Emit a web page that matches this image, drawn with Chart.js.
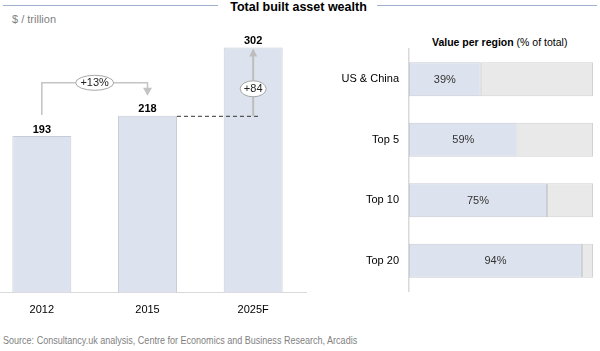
<!DOCTYPE html>
<html>
<head>
<meta charset="utf-8">
<script src="https://cdn.jsdelivr.net/npm/chart.js@4.4.1/dist/chart.umd.min.js"></script>
<style>
  html,body{margin:0;padding:0;background:#fff;overflow:hidden;}
  body{width:600px;height:351px;position:relative;font-family:"Liberation Sans",Arial,sans-serif;}
  #left{position:absolute;left:-11px;top:0;}
  #right{position:absolute;left:300px;top:0;}
  .t{position:absolute;white-space:nowrap;}
  #titleL{position:absolute;left:3px;top:5px;width:215px;height:0;border-top:1.5px solid #9fb1cf;}
  #titleR{position:absolute;left:377px;top:5px;width:220px;height:0;border-top:1.5px solid #9fb1cf;}
</style>
</head>
<body>
<div id="titleL"></div><div id="titleR"></div>
<div class="t" style="left:0;width:597px;text-align:center;top:0px;font-weight:bold;font-size:12.5px;color:#000;">Total built asset wealth</div>
<div class="t" style="left:12px;top:13px;font-size:11px;color:#7f7f7f;">$ / trillion</div>
<div class="t" style="left:432px;top:36px;font-size:10.5px;color:#000;"><b>Value per region</b> (% of total)</div>
<div class="t" style="left:3px;top:334px;font-size:10.5px;color:#7f7f7f;transform:scaleX(0.86);transform-origin:0 0;">Source: Consultancy.uk analysis, Centre for Economics and Business Research, Arcadis</div>
<canvas id="left" width="330" height="351"></canvas>
<canvas id="right" width="300" height="351"></canvas>
<script>
const years = ["2012", "2015", "2025F"];
const wealth = [193, 218, 302];
const growthLabel = "+13%";
const deltaLabel = "+84";

const regions = ["US & China", "Top 5", "Top 10", "Top 20"];
const share = [39, 59, 75, 94];
const rest = [61, 41, 25, 6];

const barFill = "#dde3ee";
const barEdge = "#c8ccd6";

function ellipse(ctx, cx, cy, rx, ry, text) {
  ctx.save();
  ctx.beginPath();
  ctx.ellipse(cx, cy, rx, ry, 0, 0, Math.PI * 2);
  ctx.fillStyle = "#fff";
  ctx.fill();
  ctx.strokeStyle = "#a6a6a6";
  ctx.lineWidth = 1;
  ctx.stroke();
  ctx.fillStyle = "#222";
  ctx.font = "11px 'Liberation Sans'";
  ctx.textAlign = "center";
  ctx.textBaseline = "middle";
  ctx.fillText(text, cx, cy + 0.5);
  ctx.restore();
}

const leftDeco = {
  id: "leftDeco",
  afterDatasetsDraw(chart) {
    const ctx = chart.ctx;
    const bars = chart.getDatasetMeta(0).data;
    ctx.save();
    ctx.font = "bold 11px 'Liberation Sans'";
    ctx.fillStyle = "#000";
    ctx.textAlign = "center";
    ctx.textBaseline = "middle";
    bars.forEach((b, i) => ctx.fillText(String(wealth[i]), b.x, b.y - 6.5));

    const b0 = bars[0], b1 = bars[1], b2 = bars[2];
    const topY = b1.y - 33;
    ctx.strokeStyle = "#c4c4c4";
    ctx.lineWidth = 1.5;
    ctx.beginPath();
    ctx.moveTo(b0.x, b0.y - 21);
    ctx.lineTo(b0.x, topY);
    ctx.lineTo(b1.x, topY);
    ctx.lineTo(b1.x, b1.y - 27);
    ctx.stroke();
    ctx.fillStyle = "#c4c4c4";
    ctx.beginPath();
    ctx.moveTo(b1.x - 4.5, b1.y - 28);
    ctx.lineTo(b1.x + 4.5, b1.y - 28);
    ctx.lineTo(b1.x, b1.y - 20);
    ctx.closePath();
    ctx.fill();
    ellipse(ctx, (b0.x + b1.x) / 2, topY, 19, 7.5, growthLabel);

    ctx.strokeStyle = "#333";
    ctx.lineWidth = 1;
    ctx.setLineDash([4, 3]);
    ctx.beginPath();
    ctx.moveTo(b1.x + b1.width / 2, b1.y + 0.5);
    ctx.lineTo(b2.x + 5, b1.y + 0.5);
    ctx.stroke();
    ctx.setLineDash([]);

    ctx.strokeStyle = "#bdbdbd";
    ctx.lineWidth = 2;
    ctx.beginPath();
    ctx.moveTo(b2.x, b1.y);
    ctx.lineTo(b2.x, b2.y + 7);
    ctx.stroke();
    ctx.fillStyle = "#bdbdbd";
    ctx.beginPath();
    ctx.moveTo(b2.x - 4, b2.y + 9);
    ctx.lineTo(b2.x + 4, b2.y + 9);
    ctx.lineTo(b2.x, b2.y + 1);
    ctx.closePath();
    ctx.fill();
    ellipse(ctx, b2.x, b1.y - 27, 13, 8, deltaLabel);
    ctx.restore();
  }
};

new Chart(document.getElementById("left"), {
  type: "bar",
  data: {
    labels: years,
    datasets: [{
      data: wealth,
      backgroundColor: barFill,
      borderColor: barEdge,
      borderWidth: 1,
      borderSkipped: "bottom",
      barPercentage: 0.558,
      categoryPercentage: 1
    }]
  },
  options: {
    responsive: false,
    devicePixelRatio: 1,
    animation: false,
    layout: { padding: { left: 0, right: 13, top: 33, bottom: 23 } },
    plugins: { legend: { display: false }, tooltip: { enabled: false } },
    scales: {
      x: {
        grid: { display: false, drawTicks: false },
        border: { display: true, color: "#d9d9d9", width: 1 },
        ticks: { color: "#000", font: { size: 11, family: "Liberation Sans" }, padding: 11 }
      },
      y: { display: false, min: 0, max: 320 }
    }
  },
  plugins: [leftDeco]
});

const rightDeco = {
  id: "rightDeco",
  afterDatasetsDraw(chart) {
    const ctx = chart.ctx;
    const bars = chart.getDatasetMeta(0).data;
    ctx.save();
    ctx.font = "11px 'Liberation Sans'";
    ctx.fillStyle = "#333";
    ctx.textAlign = "center";
    ctx.textBaseline = "middle";
    bars.forEach((b, i) => ctx.fillText(share[i] + "%", (b.x + b.base) / 2, b.y + 0.5));
    ctx.restore();
  }
};

new Chart(document.getElementById("right"), {
  type: "bar",
  data: {
    labels: regions,
    datasets: [
      { data: share, backgroundColor: barFill, borderColor: barEdge, borderWidth: 1, borderSkipped: false, barPercentage: 0.56, categoryPercentage: 1 },
      { data: rest, backgroundColor: "#e9e9e9", borderColor: "#d2d2d2", borderWidth: 1, borderSkipped: false, barPercentage: 0.56, categoryPercentage: 1 }
    ]
  },
  options: {
    indexAxis: "y",
    responsive: false,
    devicePixelRatio: 1,
    animation: false,
    layout: { padding: { left: 0, right: 7, top: 49, bottom: 60 } },
    plugins: { legend: { display: false }, tooltip: { enabled: false } },
    scales: {
      x: { display: false, stacked: true, min: 0, max: 100 },
      y: {
        stacked: true,
        grid: { display: false, drawTicks: false },
        border: { display: true, color: "#d9d9d9", width: 1.5 },
        ticks: { color: "#000", font: { size: 11, family: "Liberation Sans" }, padding: 10 },
        afterFit(scale) { scale.width = 109; }
      }
    }
  },
  plugins: [rightDeco]
});
</script>
</body>
</html>
